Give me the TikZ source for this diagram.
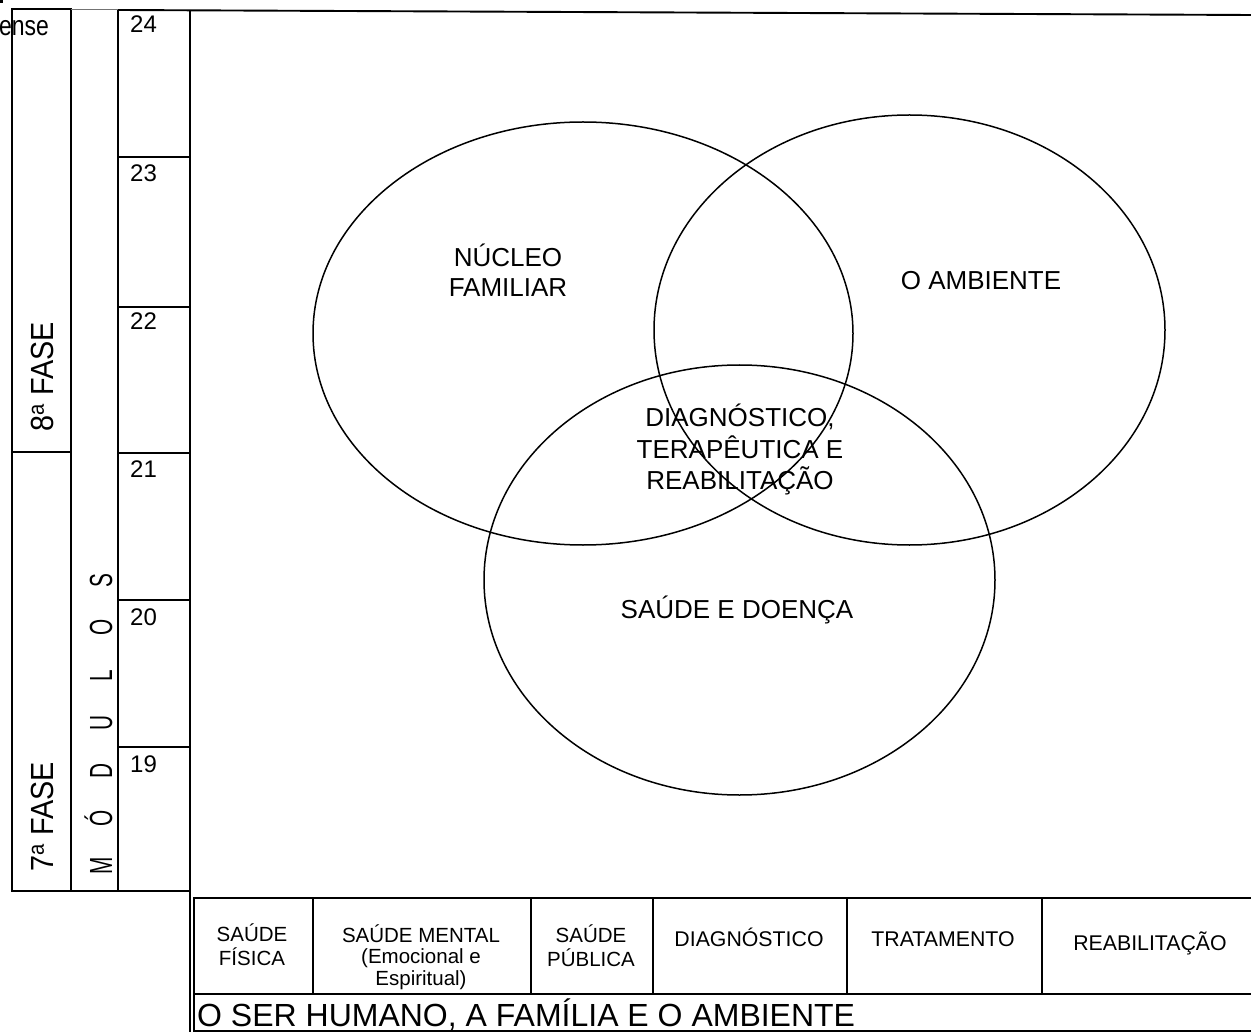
\documentclass[tikz,border=0pt]{standalone}
\usepackage{fontspec}
\setmainfont{Liberation Sans}
% stacked lines inside one node; the node's base is the first line's baseline
\newcommand{\linestack}[1]{\begin{tabular}[t]{@{}c@{}}#1\end{tabular}}
\begin{document}
\begin{tikzpicture}[x=1pt,y=-1pt,
  frame/.style={line width=1.9pt},
  faint/.style={line width=0.8pt,black!55},
  ring/.style={line width=1.5pt},
  box/.style={draw,line width=1.9pt,inner sep=0pt,anchor=north west},
  bigtxt/.style={font=\fontsize{26}{30}\selectfont,inner sep=0pt,anchor=base},
  numtxt/.style={font=\fontsize{24}{24}\selectfont,inner sep=0pt,anchor=base west},
  celltxt/.style={font=\fontsize{20.5}{22}\selectfont,inner sep=0pt,anchor=base},
  sidetxt/.style={font=\fontsize{32}{32}\selectfont,inner sep=0pt,anchor=base,rotate=90},
]
\useasboundingbox (0,0) rectangle (1251,1032);

% stray mark and cut-off word in the corner
\fill (0,0) rectangle (2.5,3.5);
\node[font=\fontsize{28}{28}\selectfont,inner sep=0pt,anchor=base west] (corner) at (-1,36) {\scalebox{0.82}[1]{ense}};

% phase column
\draw[frame] (12,9) rectangle (71,891);
\draw[frame] (12,452) -- (71,452);
\node[sidetxt] (f8) at (53,377) {\scalebox{0.9}[1]{8\textsuperscript{a} FASE}};
\node[sidetxt] (f7) at (53,817) {\scalebox{0.9}[1]{7\textsuperscript{a} FASE}};

% modules column
\draw[faint] (71,9) -- (118,9);
\draw[frame] (71,891) -- (118,891);
\node[sidetxt] (mod) at (112,723) {%
  \makebox[47.6pt]{\scalebox{0.65}[1]{M}}%
  \makebox[47.6pt]{\scalebox{0.65}[1]{Ó}}%
  \makebox[47.6pt]{\scalebox{0.65}[1]{D}}%
  \makebox[47.6pt]{\scalebox{0.65}[1]{U}}%
  \makebox[47.6pt]{\scalebox{0.65}[1]{L}}%
  \makebox[47.6pt]{\scalebox{0.65}[1]{O}}%
  \makebox[47.6pt]{\scalebox{0.65}[1]{S}}};

% module numbers column
\draw[frame] (118,10) -- (118,891) -- (190,891);
\foreach \yy in {157,307,453,600,747} \draw[frame] (118,\yy) -- (190,\yy);
\node[numtxt] (m24) at (130,33)  {24};
\node[numtxt] (m23) at (130,182) {23};
\node[numtxt] (m22) at (130,330) {22};
\node[numtxt] (m21) at (130,477) {21};
\node[numtxt] (m20) at (130,625) {20};
\node[numtxt] (m19) at (130,772) {19};

% outer frame of the main area
\draw[frame] (118,10) -- (1251,15);
\draw[frame] (190,10) -- (190,1032);

% three overlapping themes
\draw[ring] (583,333.5) ellipse [x radius=270, y radius=211.5];
\draw[ring] (909.5,330) ellipse [x radius=255.5, y radius=215];
\draw[ring] (739.5,580) ellipse [x radius=255.5, y radius=215];

\node[bigtxt] (nucleo) at (508,267) {\linestack{NÚCLEO\\FAMILIAR}};
\node[bigtxt] (amb) at (981,290) {O AMBIENTE};
\node[bigtxt,font=\fontsize{26}{29}\selectfont] (diag) at (740,427) {\linestack{DIAGNÓSTICO,\\TERAPÊUTICA E\\REABILITAÇÃO}};
\node[bigtxt] (saude) at (737,618) {SAÚDE E DOENÇA};

% bottom table
\node[box,minimum width=119pt,minimum height=96pt] (c1) at (193,897) {};
\node[box,minimum width=218pt,minimum height=96pt] (c2) at (312,897) {};
\node[box,minimum width=122pt,minimum height=96pt] (c3) at (530,897) {};
\node[box,minimum width=194pt,minimum height=96pt] (c4) at (652,897) {};
\node[box,minimum width=195pt,minimum height=96pt] (c5) at (846,897) {};
\node[box,minimum width=224pt,minimum height=96pt] (c6) at (1041,897) {};
\node[box,minimum width=1072pt,minimum height=37pt] (base) at (193,993) {};

\node[celltxt] (t1) at (252,941) {\linestack{SAÚDE\\FÍSICA}};
\node[celltxt,font=\fontsize{20.5}{21.5}\selectfont] (t2) at (421,942) {\linestack{SAÚDE MENTAL\\(Emocional e\\Espiritual)}};
\node[celltxt] (t3) at (591,942) {\linestack{SAÚDE\\PÚBLICA}};
\node[celltxt,font=\fontsize{21.3}{22}\selectfont] (t4) at (749,946) {DIAGNÓSTICO};
\node[celltxt,font=\fontsize{21.3}{22}\selectfont] (t5) at (943,946) {TRATAMENTO};
\node[celltxt,font=\fontsize{21.3}{22}\selectfont] (t6) at (1150,950) {REABILITAÇÃO};
\node[font=\fontsize{32}{32}\selectfont,inner sep=0pt,anchor=base west] (title) at (197,1026) {O SER HUMANO, A FAMÍLIA E O AMBIENTE};
\end{tikzpicture}
\end{document}
